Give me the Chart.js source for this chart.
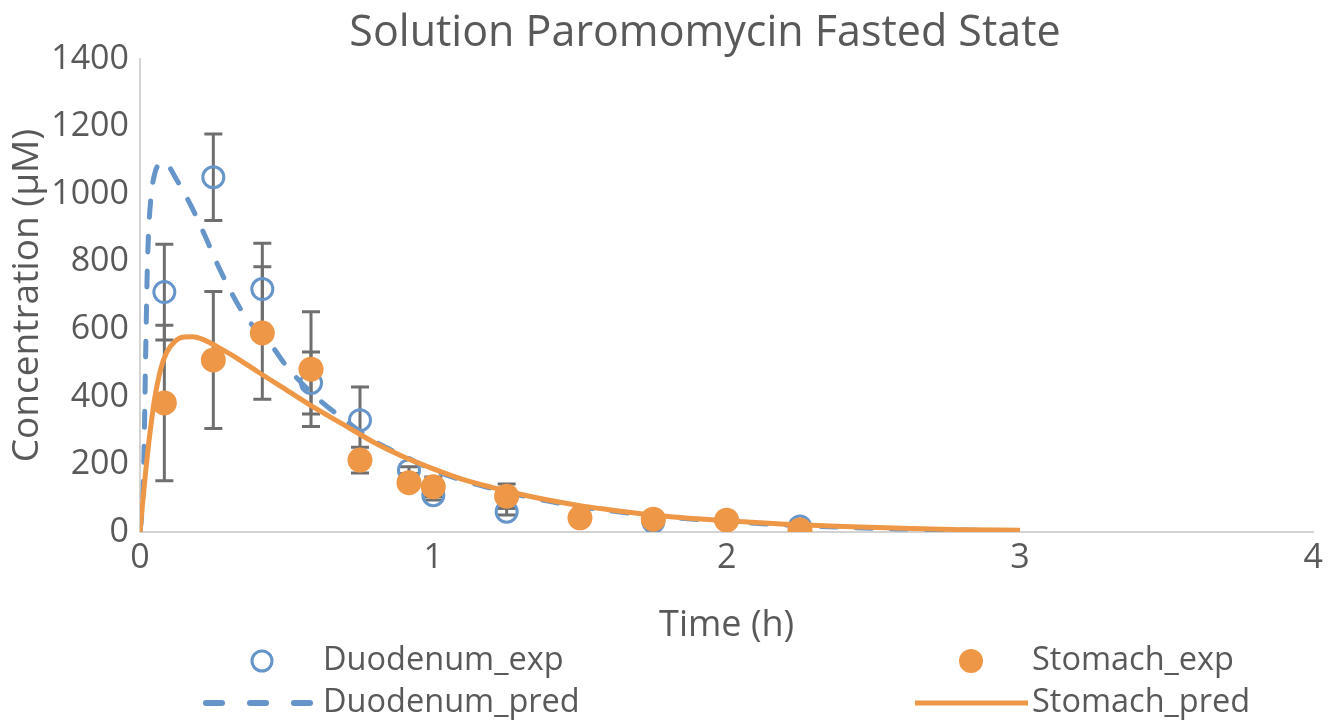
<!DOCTYPE html>
<html>
<head>
<meta charset="utf-8">
<script src="https://cdn.jsdelivr.net/npm/chart.js@4.4.1/dist/chart.umd.min.js"></script>
<style>
  html, body { margin: 0; padding: 0; background: #ffffff; }
  #wrap { width: 1329px; height: 723px; position: relative; }
</style>
</head>
<body>
<div id="wrap"><canvas id="c" width="1329" height="723"></canvas></div>
<script>
// ---- Data ----
const chartTitle = 'Solution Paromomycin Fasted State';
const xTitle = 'Time (h)';
const yTitle = 'Concentration (µM)';

// experimental sampling times (h)
const expTime = [0.083, 0.25, 0.417, 0.583, 0.75, 0.917, 1.0, 1.25, 1.5, 1.75, 2.0, 2.25];
const duodenumExp = [710, 1050, 719, 441, 331, 183, 109, 60, null, 30, null, 16];
const duodenumErr = [142, 128, 136, 92, 98, 10, 14, 10, 0, 0, 0, 0];
const stomachExp = [382, 509, 589, 482, 213, 146, 134, 106, 42, 38, 35, 6];
const stomachErr = [230, 203, 196, 170, 38, 0, 29, 36, 0, 0, 0, 0];

// model predictions
const duoPredTime = [0, 0.005, 0.01, 0.015, 0.02, 0.025, 0.03, 0.04, 0.05, 0.065, 0.08, 0.1, 0.12, 0.15, 0.18, 0.22, 0.26, 0.3, 0.35, 0.4, 0.45, 0.5, 0.6, 0.7, 0.8, 0.9, 1.0, 1.1, 1.2, 1.3, 1.4, 1.5, 1.6, 1.7, 1.8, 1.9, 2.0, 2.2, 2.4, 2.6, 2.8, 3.0];
const duodenumPred = [0, 40, 95, 300, 560, 780, 900, 1010, 1060, 1090, 1095, 1080, 1050, 1005, 955, 880, 800, 728, 650, 595, 550, 490, 400, 330, 268, 225, 183, 153, 129, 108, 90, 75, 63, 52, 44, 37, 31, 21, 14, 9, 6, 4];

const stoPredTime = [0, 0.01, 0.02, 0.03, 0.04, 0.05, 0.07, 0.09, 0.12, 0.15, 0.18, 0.22, 0.27, 0.33, 0.4, 0.5, 0.6, 0.7, 0.8, 0.9, 1.0, 1.1, 1.2, 1.3, 1.4, 1.5, 1.6, 1.7, 1.8, 1.9, 2.0, 2.2, 2.4, 2.6, 2.8, 3.0];
const stomachPred = [0, 95, 185, 265, 335, 395, 480, 530, 565, 577, 578, 568, 545, 515, 475, 420, 365, 315, 264, 222, 187, 156, 132, 111, 93, 78, 66, 55, 46, 39, 33, 23, 16, 11, 7, 5];

const xTicks = [0, 1, 2, 3, 4];
const yTicks = [0, 200, 400, 600, 800, 1000, 1200, 1400];

// ---- Styling ----
const BLUE = '#6595C9';
const ORANGE = '#EE9747';
const ERR = '#6F6F6F';
const TXT = '#595959';
const FONT = "'Open Sans', 'Noto Sans', sans-serif";

const toXY = (xs, ys) => xs.map((x, i) => ({ x: x, y: ys[i] })).filter(p => p.y !== null);

const errMap = { 'Duodenum_exp': [duodenumExp, duodenumErr], 'Stomach_exp': [stomachExp, stomachErr] };

const errorBarPlugin = {
  id: 'errorBars',
  beforeDatasetsDraw(chart) {
    const ctx = chart.ctx;
    const xs = chart.scales.x, ys = chart.scales.y;
    ctx.save();
    ctx.strokeStyle = ERR;
    ctx.lineWidth = 3;
    ctx.lineCap = 'butt';
    chart.data.datasets.forEach(ds => {
      const pair = errMap[ds.label];
      if (!pair) return;
      const vals = pair[0], errs = pair[1];
      expTime.forEach((t, i) => {
        const v = vals[i], e = errs[i];
        if (v === null || !e) return;
        const px = xs.getPixelForValue(t);
        const top = ys.getPixelForValue(v + e);
        const bot = ys.getPixelForValue(Math.max(v - e, 0));
        ctx.beginPath();
        ctx.moveTo(px, top); ctx.lineTo(px, bot);
        ctx.moveTo(px - 9, top); ctx.lineTo(px + 9, top);
        ctx.moveTo(px - 9, bot); ctx.lineTo(px + 9, bot);
        ctx.stroke();
      });
    });
    ctx.restore();
  }
};

const titleLegendPlugin = {
  id: 'titleLegend',
  afterDraw(chart) {
    const ctx = chart.ctx;
    ctx.save();
    // chart title
    ctx.font = '43px ' + FONT;
    ctx.fillStyle = TXT;
    ctx.textBaseline = 'middle';
    ctx.textAlign = 'center';
    ctx.fillText(chartTitle, 705, 34);

    // legend
    ctx.font = '32.5px ' + FONT;
    ctx.textAlign = 'left';
    const row1 = 661, row2 = 703;
    ctx.beginPath();
    ctx.strokeStyle = BLUE; ctx.lineWidth = 3;
    ctx.arc(262, row1, 10, 0, Math.PI * 2);
    ctx.stroke();
    ctx.fillText('Duodenum_exp', 323, row1);

    ctx.beginPath();
    ctx.fillStyle = ORANGE;
    ctx.arc(971, row1, 12, 0, Math.PI * 2);
    ctx.fill();
    ctx.fillStyle = TXT;
    ctx.fillText('Stomach_exp', 1032, row1);

    ctx.strokeStyle = BLUE; ctx.lineWidth = 6; ctx.lineCap = 'round';
    [[206, 222], [250, 266], [294, 310]].forEach(s => {
      ctx.beginPath(); ctx.moveTo(s[0], row2); ctx.lineTo(s[1], row2); ctx.stroke();
    });
    ctx.fillText('Duodenum_pred', 323, row2);

    ctx.strokeStyle = ORANGE; ctx.lineWidth = 5; ctx.lineCap = 'butt';
    ctx.beginPath(); ctx.moveTo(915, row2); ctx.lineTo(1028, row2); ctx.stroke();
    ctx.fillText('Stomach_pred', 1032, row2);
    ctx.restore();
  }
};

new Chart(document.getElementById('c'), {
  type: 'scatter',
  data: {
    datasets: [
      {
        label: 'Stomach_pred', order: 0,
        data: toXY(stoPredTime, stomachPred),
        showLine: true, borderColor: ORANGE, borderWidth: 5,
        pointRadius: 0, cubicInterpolationMode: 'monotone'
      },
      {
        label: 'Stomach_exp', order: 1,
        data: toXY(expTime, stomachExp),
        showLine: false, pointStyle: 'circle', pointRadius: 12.5,
        backgroundColor: ORANGE, borderColor: ORANGE, pointBorderWidth: 0
      },
      {
        label: 'Duodenum_pred', order: 2,
        data: toXY(duoPredTime, duodenumPred),
        showLine: true, borderColor: BLUE, borderWidth: 5,
        borderDash: [16, 19], borderCapStyle: 'round',
        pointRadius: 0, cubicInterpolationMode: 'monotone'
      },
      {
        label: 'Duodenum_exp', order: 3,
        data: toXY(expTime, duodenumExp),
        showLine: false, pointStyle: 'circle', pointRadius: 10.5,
        backgroundColor: 'rgba(0,0,0,0)', borderColor: BLUE, pointBorderWidth: 3
      }
    ]
  },
  options: {
    responsive: false,
    animation: false,
    events: [],
    layout: { padding: { top: 59, left: 0, right: 13, bottom: 76 } },
    plugins: {
      legend: { display: false },
      tooltip: { enabled: false },
      title: { display: false }
    },
    scales: {
      x: {
        type: 'linear', min: 0, max: 4,
        afterBuildTicks: s => { s.ticks = xTicks.map(v => ({ value: v })); },
        afterFit: s => { s.height = 115; },
        grid: { display: false, drawTicks: false },
        border: { display: true, color: '#D3D3D3', width: 2 },
        ticks: { color: TXT, font: { family: FONT, size: 34 }, padding: 6, maxRotation: 0,
                 callback: v => String(v) },
        title: { display: true, text: xTitle, color: TXT, font: { family: FONT, size: 36 }, padding: { top: 0, bottom: 0 } }
      },
      y: {
        type: 'linear', min: 0, max: 1400,
        afterBuildTicks: s => { s.ticks = yTicks.map(v => ({ value: v })); },
        afterFit: s => { s.width = 140; },
        grid: { display: false, drawTicks: false },
        border: { display: true, color: '#D3D3D3', width: 2 },
        ticks: { color: TXT, font: { family: FONT, size: 34 }, padding: 11,
                 callback: v => String(v) },
        title: { display: true, text: yTitle, color: TXT, font: { family: FONT, size: 37 }, padding: { top: 5, bottom: 0 } }
      }
    }
  },
  plugins: [errorBarPlugin, titleLegendPlugin]
});
</script>
</body>
</html>
